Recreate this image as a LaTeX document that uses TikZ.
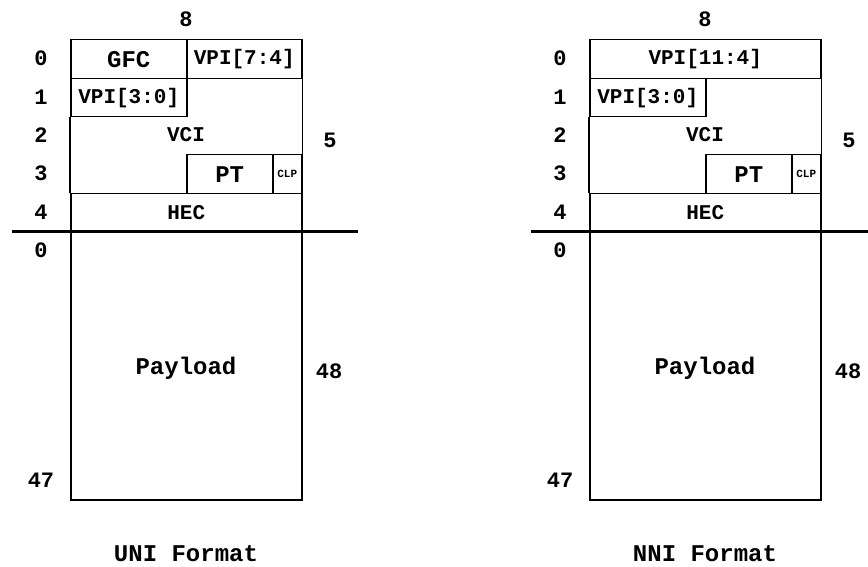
\documentclass[tikz,border=0pt]{standalone}
\usepackage{fontspec}
\setmonofont{Liberation Mono}
\newcommand\cfont{\fontsize{21}{25}\selectfont\ttfamily\bfseries}
\newcommand\bfont{\fontsize{24}{28}\selectfont\ttfamily\bfseries}
\newcommand\nfont{\fontsize{22}{26}\selectfont\ttfamily\bfseries}
\newcommand\sfont{\fontsize{11}{13}\selectfont\ttfamily\bfseries}
\begin{document}
\begin{tikzpicture}[x=1pt,y=-1pt,
  fld/.style={draw, line width=1.5pt, inner sep=0pt, anchor=north west, font=\cfont},
  big/.style={font=\bfont},
  lbl/.style={font=\nfont, inner sep=0pt},
  title/.style={font=\bfont, inner sep=0pt, anchor=base},
  edge/.style={line width=1.5pt},
  sep/.style={line width=3pt}]
\useasboundingbox (0,0) rectangle (868,567);
% ---------- UNI ----------
\node[fld, big, minimum width=116pt, minimum height=39pt] (uGFC) at (70,39) {GFC};
\node[fld, minimum width=115pt, minimum height=39pt] (uVPIh) at (186,39) {VPI[7:4]};
\node[fld, minimum width=116pt, minimum height=38pt] (uVPIl) at (70,78) {VPI[3:0]};
\node[fld, big, minimum width=86pt, minimum height=39pt] (uPT) at (186,154) {PT};
\node[fld, minimum width=29pt, minimum height=39pt, font=\sfont] (uCLP) at (272,154) {CLP};
\node[fld, minimum width=231pt, minimum height=38pt] (uHEC) at (70,193) {HEC};
\node[fld, minimum width=231pt, minimum height=268pt] (uPay) at (70,231) {};
\node[lbl, font=\bfont] (uPayT) at (186,368) {Payload};
\node[lbl, font=\cfont] (uVCI) at (186,135) {VCI};
\draw[edge] (uVPIl.south west) -- (uHEC.north west);
\draw[edge] (uVPIh.south east) -- (uCLP.north east);
\coordinate (uL) at (12,231);
\coordinate (uR) at (358,231);
\draw[sep] (uL) -- (uR);
\node[lbl] (u8) at (186,19) {8};
\node[lbl] (ur0) at (41,58) {0};
\node[lbl] (ur1) at (41,97) {1};
\node[lbl] (ur2) at (41,135) {2};
\node[lbl] (ur3) at (41,173) {3};
\node[lbl] (ur4) at (41,212) {4};
\node[lbl] (up0) at (41,250) {0};
\node[lbl] (up47) at (41,480) {47};
\node[lbl] (u5) at (330,140) {5};
\node[lbl] (u48) at (329,371) {48};
\node[title] (uT) at (186,561) {UNI Format};
% ---------- NNI ----------
\begin{scope}[xshift=519pt]
\node[fld, minimum width=231pt, minimum height=39pt] (nVPIh) at (70,39) {VPI[11:4]};
\node[fld, minimum width=116pt, minimum height=38pt] (nVPIl) at (70,78) {VPI[3:0]};
\node[fld, big, minimum width=86pt, minimum height=39pt] (nPT) at (186,154) {PT};
\node[fld, minimum width=29pt, minimum height=39pt, font=\sfont] (nCLP) at (272,154) {CLP};
\node[fld, minimum width=231pt, minimum height=38pt] (nHEC) at (70,193) {HEC};
\node[fld, minimum width=231pt, minimum height=268pt] (nPay) at (70,231) {};
\node[lbl, font=\bfont] (nPayT) at (186,368) {Payload};
\node[lbl, font=\cfont] (nVCI) at (186,135) {VCI};
\draw[edge] (nVPIl.south west) -- (nHEC.north west);
\draw[edge] (nVPIh.south east) -- (nCLP.north east);
\coordinate (nL) at (12,231);
\coordinate (nR) at (358,231);
\draw[sep] (nL) -- (nR);
\node[lbl] (n8) at (186,19) {8};
\node[lbl] (nr0) at (41,58) {0};
\node[lbl] (nr1) at (41,97) {1};
\node[lbl] (nr2) at (41,135) {2};
\node[lbl] (nr3) at (41,173) {3};
\node[lbl] (nr4) at (41,212) {4};
\node[lbl] (np0) at (41,250) {0};
\node[lbl] (np47) at (41,480) {47};
\node[lbl] (n5) at (330,140) {5};
\node[lbl] (n48) at (329,371) {48};
\node[title] (nT) at (186,561) {NNI Format};
\end{scope}
\end{tikzpicture}
\end{document}
